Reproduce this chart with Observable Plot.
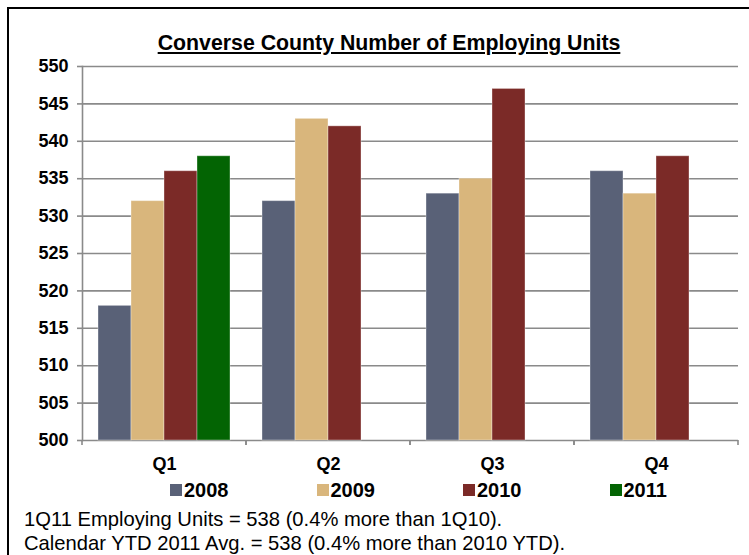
<!DOCTYPE html>
<html>
<head>
<meta charset="utf-8">
<script src="https://cdn.jsdelivr.net/npm/d3@7"></script>
<script src="https://cdn.jsdelivr.net/npm/@observablehq/plot@0.6"></script>
<style>
  body { margin: 0; background: #fff; font-family: Arial, "Liberation Sans", sans-serif; }
  #wrap { position: relative; width: 749px; height: 555px; overflow: hidden; background: #fff; }
  #border { position: absolute; left: 7px; top: 7px; width: 800px; height: 700px;
            border-top: 2.5px solid #000; border-left: 2.5px solid #000; }
  #title { position: absolute; left: 0; width: 778px; top: 31px; text-align: center;
           font-weight: bold; font-size: 21.3px; line-height: 24px; text-decoration: underline; color: #000; }
  #chart { position: absolute; left: 0; top: 0; }
  #legend { position: absolute; left: 170px; top: 478px; display: flex; gap: 88px;
            font-weight: bold; font-size: 20px; line-height: 24px; color: #000; }
  #legend .item { display: flex; align-items: center; }
  #legend .sw { width: 12px; height: 12px; margin-right: 2px; }
  .note { position: absolute; left: 24px; font-size: 20.2px; line-height: 24px; color: #000; white-space: nowrap; }
</style>
</head>
<body>
<div id="wrap">
  <div id="border"></div>
  <div id="chart"></div>
  <div id="title"></div>
  <div id="legend"></div>
  <div class="note" id="note1" style="top:507px"></div>
  <div class="note" id="note2" style="top:531px"></div>
</div>
<script>
const title = "Converse County Number of Employing Units";
const quarters = ["Q1", "Q2", "Q3", "Q4"];
const years = ["2008", "2009", "2010", "2011"];
const colors = ["#596177", "#d9b67c", "#7b2a27", "#036403"];
const v2008 = [518, 532, 533, 536];
const v2009 = [532, 543, 535, 533];
const v2010 = [536, 542, 547, 538];
const v2011 = [538, null, null, null];
const yTicks = [500, 505, 510, 515, 520, 525, 530, 535, 540, 545, 550];
const notes = [
  "1Q11 Employing Units = 538 (0.4% more than 1Q10).",
  "Calendar YTD 2011 Avg. = 538 (0.4% more than 2010 YTD)."
];

const series = [v2008, v2009, v2010, v2011];
const data = [];
series.forEach((vals, i) => vals.forEach((v, j) => {
  if (v != null) data.push({quarter: quarters[j], year: years[i], value: v});
}));

const gridColor = "#8a8a8a";

// small tick marks at the category boundaries on the bottom axis
function edgeTicks(index, scales) {
  const g = d3.create("svg:g");
  const [r0, r1] = scales.x.range();
  const y0 = scales.y(yTicks[0]);
  for (const xv of [r0, r1]) {
    g.append("line").attr("x1", xv).attr("x2", xv).attr("y1", y0).attr("y2", y0 + 5)
      .attr("stroke", gridColor).attr("stroke-width", 1.6);
  }
  return g.node();
}

const chart = Plot.plot({
  width: 749,
  height: 480,
  marginLeft: 82,
  marginRight: 11,
  marginTop: 66,
  marginBottom: 40,
  style: {fontFamily: "Arial, 'Liberation Sans', sans-serif", color: "#000", background: "transparent"},
  fx: {domain: quarters, padding: 0, label: null},
  x: {domain: years, paddingInner: 0, paddingOuter: 0.45, axis: null},
  y: {domain: [yTicks[0], yTicks[yTicks.length - 1]], label: null},
  color: {domain: years, range: colors},
  marks: [
    Plot.ruleY(yTicks, {stroke: gridColor, strokeWidth: 1.6}),
    Plot.barY(data, {fx: "quarter", x: "year", y1: yTicks[0], y2: "value", fill: "year",
                     stroke: "#ffffff", strokeOpacity: 0.35, strokeWidth: 1}),
    Plot.frame({anchor: "left", facetAnchor: "left", stroke: gridColor, strokeWidth: 1.6}),
    edgeTicks,
    Plot.axisY(yTicks, {tickSize: 5, tickPadding: 9, stroke: gridColor, strokeWidth: 1.6, fill: "#000",
                        fontSize: 18, fontWeight: "bold", label: null}),
    Plot.axisFx({anchor: "bottom", tickSize: 0, tickPadding: 17, fill: "#000", fontSize: 18,
                 fontWeight: "bold", label: null})
  ]
});
document.getElementById("chart").appendChild(chart);

document.getElementById("title").textContent = title;
const legend = d3.select("#legend");
years.forEach((y, i) => {
  const it = legend.append("div").attr("class", "item");
  it.append("div").attr("class", "sw").style("background", colors[i]);
  it.append("span").text(y);
});
document.getElementById("note1").textContent = notes[0];
document.getElementById("note2").textContent = notes[1];
</script>
</body>
</html>
